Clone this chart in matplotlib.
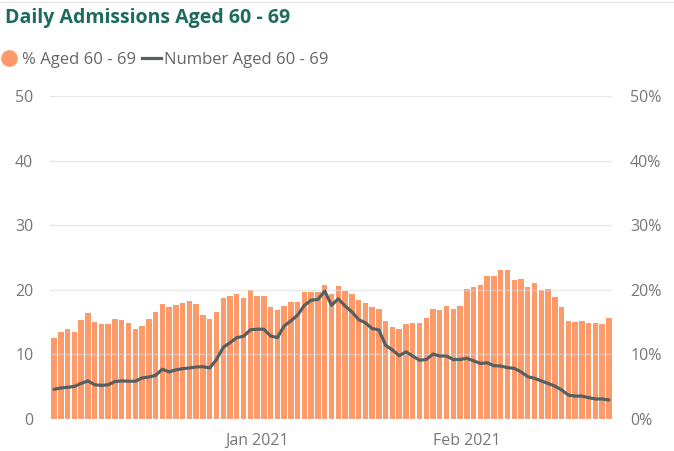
import matplotlib
matplotlib.use("Agg")
import matplotlib.pyplot as plt
from matplotlib.ticker import FuncFormatter
from matplotlib.lines import Line2D
import pandas as pd

# daily share of admissions aged 60-69 (%), 2 Dec 2020 - 22 Feb 2021
pct_aged = [
    12.6, 13.4, 13.9, 13.5, 15.3, 16.4, 15.0, 14.7, 14.7, 15.5,
    15.4, 14.9, 14.0, 14.4, 15.5, 16.6, 17.8, 17.4, 17.6, 17.9,
    18.3, 17.8, 16.1, 15.5, 16.6, 18.7, 19.0, 19.3, 18.8, 20.0,
    19.1, 19.0, 17.3, 16.9, 17.5, 18.1, 18.1, 19.6, 19.7, 19.7,
    20.7, 19.3, 20.6, 19.8, 19.3, 18.4, 18.0, 17.4, 17.1, 15.1,
    14.3, 13.9, 14.7, 14.8, 14.8, 15.7, 17.1, 16.8, 17.5, 17.1,
    17.5, 20.1, 20.4, 20.7, 22.2, 22.2, 23.0, 23.1, 21.5, 21.7,
    20.5, 21.0, 19.9, 20.1, 18.9, 17.3, 15.2, 15.0, 15.2, 14.8,
    14.8, 14.7, 15.7,
]

# daily number of admissions aged 60-69
num_aged = [
    4.6, 4.8, 4.9, 5.05, 5.5, 5.9, 5.3, 5.2, 5.3, 5.8,
    5.9, 5.85, 5.85, 6.35, 6.5, 6.75, 7.7, 7.3, 7.6, 7.8,
    7.9, 8.05, 8.1, 7.9, 9.2, 11.1, 11.8, 12.6, 12.8, 13.8,
    13.9, 13.9, 12.85, 12.6, 14.4, 15.2, 16.1, 17.6, 18.4, 18.5,
    19.8, 17.6, 18.6, 17.5, 16.6, 15.4, 14.9, 14.0, 13.8, 11.4,
    10.7, 9.8, 10.4, 9.75, 9.1, 9.2, 10.05, 9.75, 9.75, 9.2,
    9.2, 9.4, 9.0, 8.6, 8.7, 8.25, 8.2, 7.95, 7.85, 7.3,
    6.55, 6.3, 5.9, 5.5, 5.1, 4.5, 3.7, 3.55, 3.55, 3.3,
    3.1, 3.1, 2.95,
]

dates = pd.date_range("2020-12-02", periods=len(pct_aged), freq="D")
month_ticks = pd.to_datetime(["2021-01-01", "2021-02-01"])
month_labels = ["Jan 2021", "Feb 2021"]

bar_color = "#fd9a69"
line_color = "#575f60"
tick_color = "#777777"

plt.rcParams["font.family"] = ["Open Sans", "DejaVu Sans"]

fig = plt.figure(figsize=(6.74, 4.51), dpi=100)
ax = fig.add_axes([50 / 674, 1 - 419 / 451, 562 / 674, 323 / 451])
ax2 = ax.twinx()

# bars on the right (%) axis, line on the left (count) axis drawn on top
ax2.bar(dates, pct_aged, width=0.8, color=bar_color, zorder=1)
ax.set_zorder(ax2.get_zorder() + 1)
ax.patch.set_visible(False)
ax.plot(dates, num_aged, color=line_color, lw=2.3, zorder=3,
        solid_joinstyle="round", solid_capstyle="round")

for a in (ax, ax2):
    a.set_ylim(0, 50)
    a.set_yticks(range(0, 51, 10))
    for s in a.spines.values():
        s.set_visible(False)
    a.tick_params(length=0, labelsize=11.5, labelcolor=tick_color)

ax.grid(axis="y", color="#d9d9d9", alpha=0.6, lw=1, zorder=2)
ax.tick_params(axis="y", pad=12)
ax2.tick_params(axis="y", pad=13)
ax2.yaxis.set_major_formatter(FuncFormatter(lambda v, p: f"{int(v)}%"))

ax.set_xlim(dates[0] - pd.Timedelta(days=0.6), dates[-1] + pd.Timedelta(days=0.45))
ax.set_xticks(month_ticks)
ax.set_xticklabels(month_labels)
ax.tick_params(axis="x", pad=10)

fig.text(5 / 674, 1 - 18 / 451, "Daily Admissions Aged 60 - 69", color="#1d6b5e",
         fontsize=14, fontweight="bold", va="center", ha="left")

handles = [
    Line2D([], [], marker="o", ls="none", color=bar_color, markersize=11),
    Line2D([], [], color=line_color, lw=2.3),
]
fig.legend(handles, ["% Aged 60 - 69", "Number Aged 60 - 69"],
           loc="center left", bbox_to_anchor=(-15 / 674, 1 - 60 / 451),
           ncol=2, frameon=False, fontsize=12, labelcolor="#666666",
           handlelength=1.1, handletextpad=0.2, columnspacing=0.4)

fig.add_artist(Line2D([0, 1], [1 - 1.5 / 451, 1 - 1.5 / 451], color="#e6e6e6", lw=1))

fig.savefig("out.png", dpi=100)
